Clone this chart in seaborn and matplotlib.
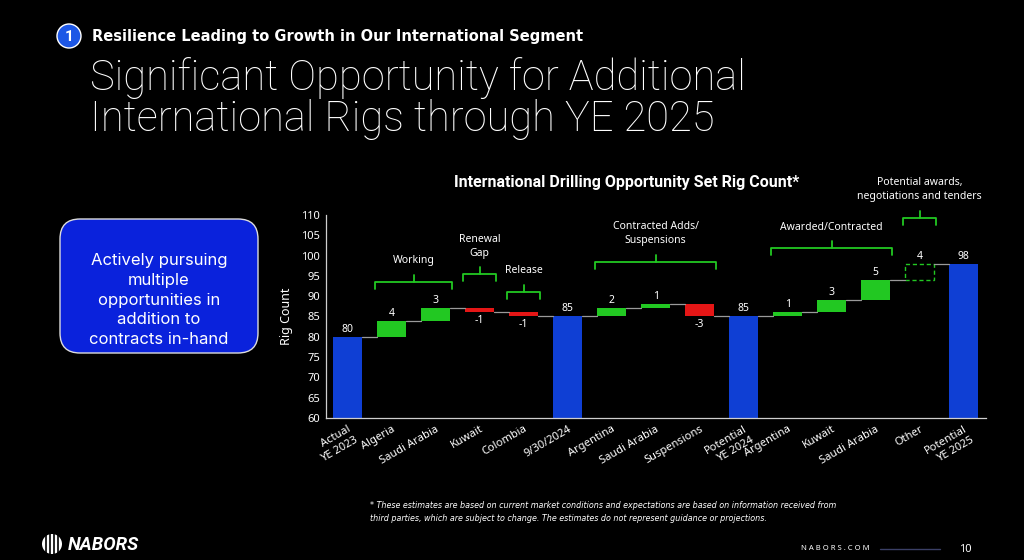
import numpy as np
import pandas as pd
import seaborn as sns
import matplotlib.pyplot as plt
from matplotlib.patches import FancyBboxPatch, Circle, Ellipse

# data
categories = ["Actual\nYE 2023", "Algeria", "Saudi Arabia", "Kuwait", "Colombia", "9/30/2024",
              "Argentina", "Saudi Arabia", "Suspensions", "Potential\nYE 2024", "Argentina",
              "Kuwait", "Saudi Arabia", "Other", "Potential\nYE 2025"]
values = [80, 4, 3, -1, -1, 85, 2, 1, -3, 85, 1, 3, 5, 4, 98]
kinds = ["total", "up", "up", "down", "down", "total", "up", "up", "down", "total",
         "up", "up", "up", "potential", "total"]
yticks = [60, 65, 70, 75, 80, 85, 90, 95, 100, 105, 110]

# bracket groups: label, first bar, last bar
groups = ["Working", "Renewal\nGap", "Release", "Contracted Adds/\nSuspensions",
          "Awarded/Contracted", "Potential awards,\nnegotiations and tenders"]
group_first = [1, 3, 4, 6, 10, 13]
group_last = [2, 3, 4, 8, 12, 13]

BLUE = "#0f3fd4"
GREEN = "#22c822"
RED = "#e51616"
colors = {"total": BLUE, "up": GREEN, "down": RED, "potential": "none"}

# running totals -> bottoms/heights
bottoms, heights, levels = [], [], []
run = 0
for v, k in zip(values, kinds):
    if k == "total":
        bottoms.append(0)
        heights.append(v)
        run = v
    else:
        bottoms.append(run if v > 0 else run + v)
        heights.append(abs(v))
        run += v
    levels.append(run)

df = pd.DataFrame({"pos": range(len(values)), "height": heights})

sns.set_theme(style="ticks")
plt.rcParams["font.family"] = ["Noto Sans", "DejaVu Sans"]

fig = plt.figure(figsize=(10.24, 5.6), dpi=100, facecolor="black")

# overlay in pixel coords for slide decoration
deco = fig.add_axes([0, 0, 1, 1])
deco.set_xlim(0, 1024)
deco.set_ylim(560, 0)
deco.axis("off")

ax = fig.add_axes([0.318, 0.2536, 0.6445, 0.3625])
ax.set_facecolor("black")

sns.barplot(data=df, x="pos", y="height", bottom=bottoms, width=0.66, color=BLUE,
            saturation=1, errorbar=None, ax=ax)

bw = 0.66
for i, p in enumerate(ax.patches):
    k = kinds[i]
    if k == "potential":
        p.set_facecolor("none")
        p.set_edgecolor(GREEN)
        p.set_linestyle((0, (3, 2)))
        p.set_linewidth(1.0)
    else:
        p.set_facecolor(colors[k])
        p.set_edgecolor("none")

# connectors
for i in range(len(values) - 1):
    ax.plot([i + bw / 2, i + 1 - bw / 2], [levels[i], levels[i]], color="#9a9a9a", lw=0.9, zorder=1)

# value labels
for i, (v, k) in enumerate(zip(values, kinds)):
    top = bottoms[i] + heights[i]
    if k == "down":
        ax.text(i, bottoms[i] - 0.6, f"{v}", ha="center", va="top", color="white", fontsize=7.5)
    else:
        ax.text(i, top + 0.5, f"{v}", ha="center", va="bottom", color="white", fontsize=7.5,
                fontweight="bold")

# brackets
tip_y = [91.8, 93.7, 89.3, 96.7, 100.1, 107.5]
label_y = [98.7, 102.2, 96.3, 105.4, 107.0, 116.3]
for lab, a, b, ty, ly in zip(groups, group_first, group_last, tip_y, label_y):
    x0, x1 = a - 0.38, b + 0.38
    ln = ty + 1.8
    mid = (x0 + x1) / 2
    ax.plot([x0, x0, x1, x1], [ty, ln, ln, ty], color=GREEN, lw=1.3, clip_on=False)
    ax.plot([mid, mid], [ln, ln + 1.6], color=GREEN, lw=1.3, clip_on=False)
    ax.text(mid, ly, lab, ha="center", va="center", color="white", fontsize=7.5,
            linespacing=1.3, clip_on=False)

ax.set_xlim(-0.5, len(values) - 0.5)
ax.set_ylim(60, 110)
ax.set_yticks(yticks)
ax.set_xticks(range(len(values)))
ax.set_xticklabels(categories, rotation=30, ha="right", rotation_mode="anchor")
ax.tick_params(length=0, colors="white", labelsize=8, pad=4)
ax.set_xlabel("")
ax.set_ylabel("Rig Count", color="white", fontsize=9, labelpad=6)
for s in ["top", "right"]:
    ax.spines[s].set_visible(False)
for s in ["left", "bottom"]:
    ax.spines[s].set_color("#cfcfcf")
    ax.spines[s].set_linewidth(0.9)

# chart title
deco.text(627, 183, "International Drilling Opportunity Set Rig Count*", ha="center", va="center",
          color="white", fontsize=11.5, fontweight="bold", family=["Roboto", "DejaVu Sans"])

# slide header
deco.add_patch(Circle((69, 36), 12, facecolor="#1d57e6", edgecolor="white", lw=1))
deco.text(69, 37, "1", ha="center", va="center", color="white", fontsize=11, fontweight="bold",
          family=["Roboto", "DejaVu Sans"])
deco.text(92, 36, "Resilience Leading to Growth in Our International Segment", ha="left",
          va="center", color="white", fontsize=10.5, fontweight="bold",
          family=["DejaVu Sans"])
deco.text(90, 90, "Significant Opportunity for Additional", ha="left", va="baseline",
          color="white", fontsize=30, fontweight="light", family=["Roboto", "DejaVu Sans"])
deco.text(90, 131, "International Rigs through YE 2025", ha="left", va="baseline",
          color="white", fontsize=30, fontweight="light", family=["Roboto", "DejaVu Sans"])

# left call-out box
deco.add_patch(FancyBboxPatch((60, 219), 198, 134, boxstyle="round,pad=0,rounding_size=20",
                              facecolor="#0a22dc", edgecolor="#dddddd", lw=1))
deco.text(159, 300, "Actively pursuing\nmultiple\nopportunities in\naddition to\ncontracts in-hand",
          ha="center", va="center", color="white", fontsize=12, linespacing=1.4,
          family=["Inter", "DejaVu Sans"])

# footnote
deco.text(370, 512, "* These estimates are based on current market conditions and expectations are based on information received from\n"
          "third parties, which are subject to change. The estimates do not represent guidance or projections.",
          ha="left", va="center", color="white", fontsize=5.8, style="italic", linespacing=1.45,
          family=["Liberation Sans Narrow", "DejaVu Sans"])

# footer
deco.add_patch(Ellipse((52, 544), 20, 20, facecolor="white", edgecolor="none"))
for xx in [46, 50, 54, 58]:
    deco.plot([xx, xx], [534, 555], color="black", lw=1.2)
deco.text(68, 545, "NABORS", ha="left", va="center", color="white", fontsize=13.3,
          fontweight="bold", style="italic", family=["Roboto", "DejaVu Sans"])
deco.text(835, 549, "N A B O R S . C O M", ha="center", va="center", color="white", fontsize=5.5)
deco.plot([880, 940], [549, 549], color="#3a3f66", lw=1)
deco.text(965, 549, "10", ha="center", va="center", color="white", fontsize=8)

fig.savefig("out.png", dpi=100, facecolor="black")
